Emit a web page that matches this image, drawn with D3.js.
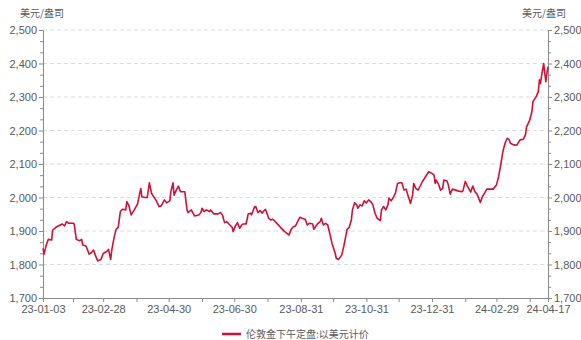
<!DOCTYPE html>
<html>
<head>
<meta charset="utf-8">
<script src="https://cdn.jsdelivr.net/npm/d3@7/dist/d3.min.js"></script>
<style>
  html, body { margin: 0; padding: 0; background: #fff; }
  svg { display: block; font-family: "Noto Sans CJK SC", "Noto Sans", sans-serif; }
</style>
</head>
<body>
<svg id="chart" width="581" height="340"></svg>
<script>
// London gold PM fix, USD per troy ounce
const dates = [
  "2023-01-03","2023-01-04","2023-01-06","2023-01-08","2023-01-11","2023-01-12","2023-01-15","2023-01-19","2023-01-21","2023-01-23",
  "2023-01-25","2023-01-27","2023-01-31","2023-02-01","2023-02-03","2023-02-06","2023-02-08","2023-02-09","2023-02-12","2023-02-15",
  "2023-02-17","2023-02-19","2023-02-21","2023-02-23","2023-02-26","2023-02-28","2023-03-03","2023-03-05","2023-03-07","2023-03-08",
  "2023-03-10","2023-03-12","2023-03-14","2023-03-16","2023-03-18","2023-03-21","2023-03-22","2023-03-24","2023-03-26","2023-03-29",
  "2023-03-31","2023-04-01","2023-04-04","2023-04-05","2023-04-08","2023-04-10","2023-04-12","2023-04-14","2023-04-16","2023-04-18",
  "2023-04-21","2023-04-23","2023-04-26","2023-04-28","2023-05-01","2023-05-02","2023-05-04","2023-05-05","2023-05-07","2023-05-09",
  "2023-05-11","2023-05-15","2023-05-17","2023-05-18","2023-05-21","2023-05-24","2023-05-28","2023-05-30","2023-05-31","2023-06-02",
  "2023-06-04","2023-06-07","2023-06-08","2023-06-11","2023-06-15","2023-06-17","2023-06-19","2023-06-21","2023-06-23","2023-06-25",
  "2023-06-28","2023-06-29","2023-07-01","2023-07-03","2023-07-05","2023-07-07","2023-07-08","2023-07-11","2023-07-13","2023-07-15",
  "2023-07-16","2023-07-19","2023-07-20","2023-07-22","2023-07-24","2023-07-26","2023-07-27","2023-07-29","2023-07-31","2023-08-01",
  "2023-08-03","2023-08-05","2023-08-08","2023-08-12","2023-08-16","2023-08-18","2023-08-20","2023-08-22","2023-08-24","2023-08-26",
  "2023-08-28","2023-08-30","2023-09-01","2023-09-04","2023-09-06","2023-09-08","2023-09-11","2023-09-12","2023-09-14","2023-09-16",
  "2023-09-18","2023-09-19","2023-09-21","2023-09-23","2023-09-25","2023-09-27","2023-09-29","2023-10-02","2023-10-03","2023-10-05",
  "2023-10-08","2023-10-10","2023-10-13","2023-10-15","2023-10-17","2023-10-18","2023-10-20","2023-10-22","2023-10-23","2023-10-25",
  "2023-10-27","2023-10-29","2023-10-31","2023-11-02","2023-11-04","2023-11-06","2023-11-08","2023-11-10","2023-11-13","2023-11-14",
  "2023-11-16","2023-11-18","2023-11-20","2023-11-21","2023-11-23","2023-11-25","2023-11-27","2023-11-29","2023-12-01","2023-12-03",
  "2023-12-05","2023-12-07","2023-12-08","2023-12-10","2023-12-11","2023-12-13","2023-12-14","2023-12-16","2023-12-18","2023-12-20",
  "2023-12-22","2023-12-25","2023-12-28","2023-12-31","2024-01-02","2024-01-03","2024-01-04","2024-01-06","2024-01-08","2024-01-10",
  "2024-01-11","2024-01-14","2024-01-15","2024-01-17","2024-01-19","2024-01-22","2024-01-25","2024-01-28","2024-01-29","2024-01-31",
  "2024-02-02","2024-02-04","2024-02-05","2024-02-07","2024-02-09","2024-02-11","2024-02-14","2024-02-16","2024-02-18","2024-02-20",
  "2024-02-23","2024-02-26","2024-02-29","2024-03-02","2024-03-04","2024-03-06","2024-03-08","2024-03-10","2024-03-12","2024-03-13",
  "2024-03-16","2024-03-19","2024-03-20","2024-03-22","2024-03-25","2024-03-27","2024-03-28","2024-03-31","2024-04-02","2024-04-03",
  "2024-04-06","2024-04-08","2024-04-09","2024-04-10","2024-04-11","2024-04-13","2024-04-14","2024-04-15","2024-04-16","2024-04-17"
];
const prices = [
  1848,1831,1858,1875,1873,1903,1911,1918,1921,1915,
  1928,1923,1923,1921,1875,1871,1875,1858,1855,1831,
  1835,1843,1825,1811,1815,1833,1838,1845,1815,1843,
  1878,1905,1911,1958,1965,1963,1988,1975,1948,1963,
  1975,1981,2027,2002,2000,2000,2044,2013,2002,1993,
  1973,1975,1993,1984,1990,2017,2044,2007,2022,2034,
  2017,2017,1963,1955,1963,1945,1948,1955,1968,1958,
  1963,1958,1963,1951,1951,1955,1948,1925,1928,1921,
  1911,1898,1915,1925,1908,1918,1921,1921,1951,1953,
  1948,1973,1973,1955,1961,1953,1958,1965,1948,1938,
  1933,1935,1925,1911,1898,1893,1888,1905,1913,1915,
  1928,1941,1938,1935,1918,1923,1921,1905,1915,1923,
  1928,1938,1918,1923,1918,1891,1863,1833,1818,1815,
  1828,1855,1905,1911,1933,1963,1984,1978,1968,1978,
  1975,1990,1984,1993,1988,1978,1953,1938,1931,1963,
  1973,1963,1978,1998,1990,2000,2013,2042,2044,2044,
  2022,2025,2013,1993,1982,2007,2042,2027,2022,2034,
  2047,2062,2077,2072,2067,2042,2052,2040,2022,2027,
  2052,2049,2040,2010,2025,2022,2019,2017,2022,2048,
  2034,2022,2016,2034,2017,2010,1985,2003,2013,2025,
  2025,2025,2037,2062,2097,2137,2162,2177,2172,2162,
  2157,2156,2162,2172,2174,2187,2210,2231,2256,2286,
  2301,2316,2351,2340,2363,2400,2371,2346,2371,2391
];
const yTicks = [1700, 1800, 1900, 2000, 2100, 2200, 2300, 2400, 2500];
const xTickLabels = ["23-01-03","23-02-28","23-04-30","23-06-30","23-08-31","23-10-31","23-12-31","24-02-29","24-04-17"];
const xMinorTicks = ["23-01-31","23-03-31","23-05-31","23-07-31","23-09-30","23-11-30","24-01-31","24-03-31"];
const unitLabel = "美元/盎司";
const seriesName = "伦敦金下午定盘:以美元计价";

const parseDate = d3.timeParse("%Y-%m-%d");
const parseShort = d3.timeParse("%y-%m-%d");
const data = dates.map((d, i) => ({ date: parseDate(d), value: prices[i] }));

const svg = d3.select("#chart");
const margin = { left: 43, right: 33, top: 30, bottom: 42 };
const W = 581, H = 340;
const x = d3.scaleTime()
  .domain([parseDate("2023-01-03"), parseDate("2024-04-17")])
  .range([margin.left, W - margin.right]);
const y = d3.scaleLinear()
  .domain([1700, 2500])
  .range([H - margin.bottom, margin.top]);

const axisColor = "#8a8a8a";
const textColor = "#595959";
const red = "#cc1236";

// dashed horizontal grid
svg.append("g")
  .selectAll("line")
  .data(yTicks.slice(1))
  .join("line")
  .attr("x1", x.range()[0]).attr("x2", x.range()[1])
  .attr("y1", d => y(d)).attr("y2", d => y(d))
  .attr("stroke", "#dcdcdc")
  .attr("stroke-dasharray", "4,3")
  .attr("stroke-width", 1);

// minor y ticks: thirds between each major step
const yMinor = [];
for (let i = 0; i < yTicks.length - 1; i++) {
  const step = (yTicks[i + 1] - yTicks[i]) / 3;
  yMinor.push(yTicks[i] + step, yTicks[i] + 2 * step);
}

function styleAxis(g) {
  g.selectAll(".domain").attr("stroke", axisColor);
  g.selectAll(".tick line").attr("stroke", axisColor);
  g.selectAll(".tick text").attr("fill", textColor).attr("font-size", 11);
}

const fmt = d3.format(",");
const leftAxis = svg.append("g").attr("transform", `translate(${margin.left},0)`)
  .call(d3.axisLeft(y).tickValues(yTicks).tickFormat(fmt).tickSizeOuter(0).tickSize(4).tickPadding(2));
styleAxis(leftAxis);
svg.append("g").attr("transform", `translate(${margin.left},0)`)
  .call(d3.axisLeft(y).tickValues(yMinor).tickFormat("").tickSize(3))
  .call(g => g.select(".domain").remove())
  .call(styleAxis);

const rightAxis = svg.append("g").attr("transform", `translate(${W - margin.right},0)`)
  .call(d3.axisRight(y).tickValues(yTicks).tickFormat(fmt).tickSizeOuter(0).tickSize(4).tickPadding(2));
styleAxis(rightAxis);
svg.append("g").attr("transform", `translate(${W - margin.right},0)`)
  .call(d3.axisRight(y).tickValues(yMinor).tickFormat("").tickSize(3))
  .call(g => g.select(".domain").remove())
  .call(styleAxis);

// bottom axis
const bottomAxis = svg.append("g").attr("transform", `translate(0,${H - margin.bottom})`)
  .call(d3.axisBottom(x)
    .tickValues(xTickLabels.map(parseShort))
    .tickFormat(d3.timeFormat("%y-%m-%d"))
    .tickSizeOuter(0).tickSize(4).tickPadding(3));
styleAxis(bottomAxis);
svg.append("g").attr("transform", `translate(0,${H - margin.bottom})`)
  .call(d3.axisBottom(x).tickValues(xMinorTicks.map(parseShort)).tickFormat("").tickSize(4))
  .call(g => g.select(".domain").remove())
  .call(styleAxis);

// unit labels
svg.append("text").attr("x", 42).attr("y", 17).attr("text-anchor", "middle")
  .attr("font-size", 10).attr("fill", textColor).text(unitLabel);
svg.append("text").attr("x", 544).attr("y", 17).attr("text-anchor", "middle")
  .attr("font-size", 10).attr("fill", textColor).text(unitLabel);

// price line
const line = d3.line().x(d => x(d.date)).y(d => y(d.value));
svg.append("path").datum(data)
  .attr("fill", "none")
  .attr("stroke", red)
  .attr("stroke-width", 1.6)
  .attr("stroke-linejoin", "round")
  .attr("d", line);

// legend
const legend = svg.append("g").attr("transform", "translate(222,334)");
legend.append("line").attr("x1", 0).attr("x2", 19).attr("y1", 0).attr("y2", 0)
  .attr("stroke", red).attr("stroke-width", 2.5);
legend.append("text").attr("x", 24).attr("y", 4).attr("font-size", 10)
  .attr("fill", textColor).text(seriesName);
</script>
</body>
</html>
